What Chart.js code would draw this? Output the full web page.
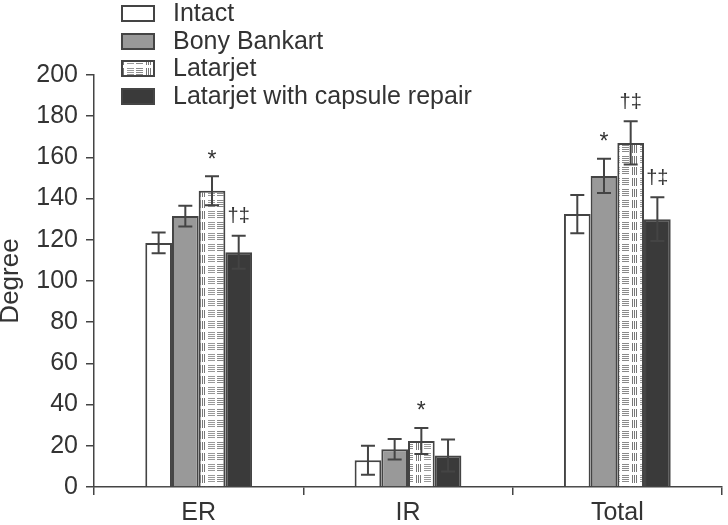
<!DOCTYPE html>
<html>
<head>
<meta charset="utf-8">
<script src="https://cdn.jsdelivr.net/npm/chart.js@4.4.1/dist/chart.umd.min.js"></script>
<style>
  html, body { margin: 0; padding: 0; background: #fff; }
  #wrap { width: 728px; height: 525px; position: relative; }
</style>
</head>
<body>
<div id="wrap"><canvas id="c" width="728" height="525"></canvas></div>
<script>
// ---- Data ----
const categories = ['ER', 'IR', 'Total'];
const seriesNames = ['Intact', 'Bony Bankart', 'Latarjet', 'Latarjet with capsule repair'];
const intact = [118.5, 13, 132.5];
const intactErr = [5, 7, 9.3];
const bony = [131.5, 18.3, 151];
const bonyErr = [5, 5, 8.3];
const latarjet = [143.8, 22.3, 167];
const latarjetErr = [7, 6.3, 10.5];
const capsule = [114, 15.3, 130];
const capsuleErr = [8, 7.8, 10.6];
const intactMarks = ['', '', ''];
const bonyMarks = ['', '', '*'];
const latarjetMarks = ['*', '*', '†‡'];
const capsuleMarks = ['†‡', '', '†‡'];
const yMin = 0, yMax = 200, yStep = 20;

// ---- Pattern for Latarjet ----
function makePattern() {
  const t = document.createElement('canvas');
  t.width = 27; t.height = 11;
  const g = t.getContext('2d');
  g.fillStyle = '#fff';
  g.fillRect(0, 0, t.width, t.height);
  g.lineWidth = 1;
  g.strokeStyle = '#8a8a8a';
  for (let y = 2.5; y <= 9; y += 2) { g.beginPath(); g.moveTo(1, y); g.lineTo(8, y); g.stroke(); }
  g.strokeStyle = '#777';
  for (let x = 11.5; x <= 16; x += 2) { g.beginPath(); g.moveTo(x, 2); g.lineTo(x, 10); g.stroke(); }
  g.strokeStyle = '#9a9a9a';
  for (let y = 2.5; y <= 9; y += 2) { g.beginPath(); g.moveTo(19, y); g.lineTo(26, y); g.stroke(); }
  return g.createPattern(t, 'repeat');
}
const latPattern = makePattern();

const errors = [intactErr, bonyErr, latarjetErr, capsuleErr];
const marks = [intactMarks, bonyMarks, latarjetMarks, capsuleMarks];
const fills = ['#ffffff', '#999999', latPattern, '#3a3a3a'];
const values = [intact, bony, latarjet, capsule];

const ink = '#333';
const axisCol = '#444';
const FONT = '"Liberation Sans", Arial, sans-serif';

const errorBarPlugin = {
  id: 'errorBars',
  afterDatasetsDraw(chart) {
    const ctx = chart.ctx;
    const ys = chart.scales.y;
    ctx.save();
    chart.data.datasets.forEach((ds, di) => {
      const meta = chart.getDatasetMeta(di);
      meta.data.forEach((bar, i) => {
        const v = ds.data[i], e = errors[di][i];
        const x = bar.x;
        const yt = ys.getPixelForValue(v + e);
        const yb = ys.getPixelForValue(v - e);
        ctx.strokeStyle = '#444';
        ctx.lineWidth = 2;
        ctx.beginPath();
        ctx.moveTo(x, yt); ctx.lineTo(x, yb);
        ctx.moveTo(x - 7, yt); ctx.lineTo(x + 7, yt);
        ctx.moveTo(x - 7, yb); ctx.lineTo(x + 7, yb);
        ctx.stroke();
        const m = marks[di][i];
        if (m) {
          ctx.fillStyle = ink;
          ctx.textAlign = 'center';
          ctx.textBaseline = 'middle';
          ctx.font = (m === '*' ? '23px ' : '20px ') + FONT;
          ctx.fillText(m, x, yt - (m === '*' ? 16 : 19));
        }
      });
    });
    ctx.restore();
  }
};

const legendPlugin = {
  id: 'customLegend',
  afterDraw(chart) {
    const ctx = chart.ctx;
    ctx.save();
    const rows = [13, 41, 68, 96];
    chart.data.datasets.forEach((ds, di) => {
      const cy = rows[di];
      ctx.fillStyle = ds.backgroundColor;
      ctx.fillRect(121, cy - 8, 34, 17);
      ctx.strokeStyle = '#444';
      ctx.lineWidth = 2;
      ctx.strokeRect(122, cy - 7, 32, 15);
      ctx.fillStyle = ink;
      ctx.font = '25px ' + FONT;
      ctx.textAlign = 'left';
      ctx.textBaseline = 'middle';
      ctx.fillText(ds.label, 173, cy + 1);
    });
    // y axis title
    ctx.translate(11, 281);
    ctx.rotate(-Math.PI / 2);
    ctx.textAlign = 'center';
    ctx.textBaseline = 'middle';
    ctx.font = '26px ' + FONT;
    ctx.fillText('Degree', 0, 0);
    ctx.restore();
  }
};

new Chart(document.getElementById('c'), {
  type: 'bar',
  data: {
    labels: categories,
    datasets: seriesNames.map((name, i) => ({
      label: name,
      data: values[i],
      backgroundColor: fills[i],
      borderColor: '#444',
      borderWidth: 2,
      borderSkipped: 'bottom',
      categoryPercentage: 0.51,
      barPercentage: 1.0
    }))
  },
  options: {
    responsive: false,
    animation: false,
    devicePixelRatio: 1,
    layout: { padding: { top: 75, right: 6, left: 0, bottom: 0 } },
    plugins: { legend: { display: false }, tooltip: { enabled: false } },
    scales: {
      x: {
        offset: true,
        grid: { display: true, offset: true, drawOnChartArea: false, drawTicks: true, tickLength: 8, color: axisCol, lineWidth: 1.5 },
        border: { display: true, color: axisCol, width: 1.5 },
        ticks: { color: ink, font: { size: 25, family: FONT }, padding: 3 },
        afterFit(scale) { scale.height = 38; }
      },
      y: {
        min: yMin, max: yMax,
        grid: { display: true, drawOnChartArea: false, drawTicks: true, tickLength: 8, color: axisCol, lineWidth: 1.5 },
        border: { display: true, color: axisCol, width: 1.5 },
        ticks: { stepSize: yStep, color: ink, font: { size: 25, family: FONT }, padding: 8 },
        afterFit(scale) { scale.width = 94; }
      }
    }
  },
  plugins: [errorBarPlugin, legendPlugin]
});
</script>
</body>
</html>
